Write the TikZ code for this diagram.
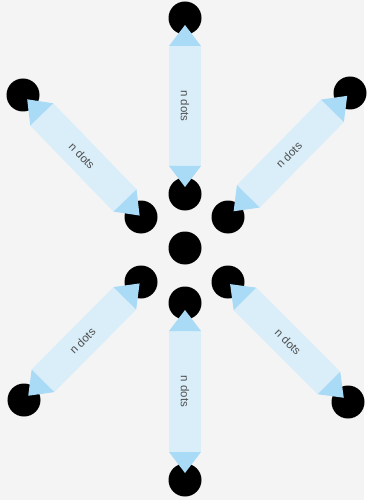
\documentclass[tikz,border=0pt]{standalone}
\usepackage{fontspec}
\setmainfont{Liberation Sans}
\usepackage{tikz}
\usetikzlibrary{arrows.meta}
\definecolor{bgGray}{HTML}{F4F4F4}
\definecolor{shaftBlue}{HTML}{D9EEF9}
\definecolor{headBlue}{HTML}{A9DBF7}
\definecolor{labelGray}{HTML}{4F4F4F}

\begin{document}
\begin{tikzpicture}[x=1bp, y=-1bp,
    dot/.style={circle, fill=black, inner sep=0pt, minimum size=33bp},
    span/.style={draw=shaftBlue, line width=32bp, <->,
      >={Triangle[width=32bp, length=21bp, line width=0pt, color=headBlue, fill=headBlue]}},
    lbl/.style={midway, sloped, inner sep=0pt, text=labelGray, font=\fontsize{11.5}{13}\selectfont}]
    \fill[bgGray] (0,0) rectangle (364,500);
    \node[dot] (topOut) at (185,18) {};
    \node[dot] (topIn) at (185,194) {};
    \node[dot] (ulOut) at (23,95) {};
    \node[dot] (ulIn) at (141,217) {};
    \node[dot] (urOut) at (350,93) {};
    \node[dot] (urIn) at (228,217) {};
    \node[dot] (mid) at (185,248) {};
    \node[dot] (llIn) at (141,282) {};
    \node[dot] (llOut) at (24,400) {};
    \node[dot] (lrIn) at (228,282) {};
    \node[dot] (lrOut) at (348,402) {};
    \node[dot] (botIn) at (185,303) {};
    \node[dot] (botOut) at (185,480) {};
    \draw[span, shorten <=7bp, shorten >=7bp] (topOut.center) -- (topIn.center) node[lbl] {n dots};
    \draw[span, shorten <=7bp, shorten >=7bp] (botIn.center) -- (botOut.center) node[lbl] {n dots};
    \draw[span, shorten <=6bp, shorten >=2bp] (ulOut.center) -- (ulIn.center) node[lbl] {n dots};
    \draw[span, shorten <=4bp, shorten >=8bp] (urOut.center) -- (urIn.center) node[lbl] {n dots};
    \draw[span, shorten <=2bp, shorten >=6bp] (llIn.center) -- (llOut.center) node[lbl] {n dots};
    \draw[span, shorten <=3bp, shorten >=6bp] (lrIn.center) -- (lrOut.center) node[lbl] {n dots};
\end{tikzpicture}
\end{document}
